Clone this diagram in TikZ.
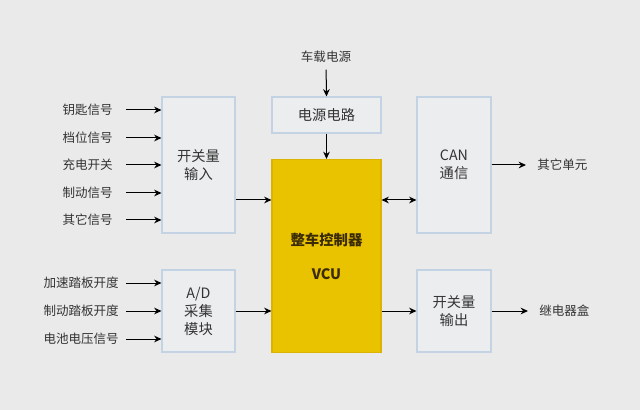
\documentclass[tikz,border=0pt]{standalone}
\usepackage{fontspec}
\setmainfont{Noto Sans CJK SC}
\usetikzlibrary{arrows.meta}
\definecolor{bggray}{HTML}{EAEAEA}
\definecolor{boxfill}{HTML}{ECEDEF}
\definecolor{boxline}{HTML}{C3D3E3}
\definecolor{vcuyellow}{HTML}{E9C200}
\definecolor{vculine}{HTML}{DCB400}
\definecolor{vcutext}{HTML}{3B2C05}
\definecolor{txtgray}{HTML}{333333}

\begin{document}
\begin{tikzpicture}[x=0.75pt,y=-0.75pt,
    block/.style={draw=boxline, fill=boxfill, line width=0.8pt, inner sep=0pt,
        align=center, text=txtgray, font=\fontsize{10.7}{13.5}\selectfont},
    sig/.style={inner sep=0pt, text=txtgray, font=\fontsize{9.4}{11}\selectfont},
    arr/.style={->, >={Stealth[length=5.5pt, width=5pt]}, line width=0.75pt, black}]

        % Background
        \useasboundingbox (0,0) rectangle (640,410);
        \fill[bggray] (0,0) rectangle (640,410);

        % Blocks
        \node[block, minimum width=54.75pt, minimum height=102pt] (swin) at (198.5,165) {开关量\\输入};
        \node[block, minimum width=81.75pt, minimum height=27pt] (psu) at (326.5,115) {电源电路};
        \node[block, minimum width=55.5pt, minimum height=102pt] (can) at (454,165) {CAN\\通信};
        \node[block, minimum width=54.75pt, minimum height=61.5pt] (adc) at (198.5,311) {A/D\\采集\\模块};
        \node[block, minimum width=55.5pt, minimum height=61.5pt] (swout) at (454,311) {开关量\\输出};

        % Vehicle control unit
        \node[draw=vculine, fill=vcuyellow, line width=0.8pt, inner sep=0pt, align=center,
            text=vcutext, font=\fontsize{10.8}{25.5}\selectfont\bfseries,
            minimum width=81.75pt, minimum height=144.75pt] (vcu) at (326.5,256) {整车控制器\\VCU};

        % Power supply
        \node[sig] (vbat) at (326,57) {车载电源};
        \draw[arr, shorten <=5pt] (vbat.south) -- (psu.north);
        \draw[arr] (psu.south) -- (vcu.north);

        % Switch inputs
        \node[sig, anchor=east] (key) at (113,110) {钥匙信号};
        \node[sig, anchor=east] (gear) at (113,138) {档位信号};
        \node[sig, anchor=east] (chg) at (113,165) {充电开关};
        \node[sig, anchor=east] (brk) at (113,193) {制动信号};
        \node[sig, anchor=east] (oth) at (113,220) {其它信号};
        \draw[arr, shorten <=9.75pt] (key.east) -- (key.east -| swin.west);
        \draw[arr, shorten <=9.75pt] (gear.east) -- (gear.east -| swin.west);
        \draw[arr, shorten <=9.75pt] (chg.east) -- (chg.east -| swin.west);
        \draw[arr, shorten <=9.75pt] (brk.east) -- (brk.east -| swin.west);
        \draw[arr, shorten <=9.75pt] (oth.east) -- (oth.east -| swin.west);

        % Analog inputs
        \node[sig, anchor=east] (acc) at (119,283) {加速踏板开度};
        \node[sig, anchor=east] (brkp) at (119,311) {制动踏板开度};
        \node[sig, anchor=east] (batv) at (119,339) {电池电压信号};
        \draw[arr, shorten <=5.25pt] (acc.east) -- (acc.east -| adc.west);
        \draw[arr, shorten <=5.25pt] (brkp.east) -- (brkp.east -| adc.west);
        \draw[arr, shorten <=5.25pt] (batv.east) -- (batv.east -| adc.west);

        % Links to the VCU
        \coordinate (mid) at (0,200);
        \draw[arr] (swin.east |- mid) -- (vcu.west |- mid);
        \draw[arr, <->] (vcu.east |- mid) -- (can.west |- mid);
        \draw[arr] (adc.east) -- (vcu.west |- adc.east);
        \draw[arr] (vcu.east |- swout.west) -- (swout.west);

        % Outputs
        \node[sig, anchor=west] (other) at (537,165) {其它单元};
        \node[sig, anchor=west] (relay) at (539,311) {继电器盒};
        \draw[arr, shorten >=8.25pt] (can.east) -- (other.west);
        \draw[arr, shorten >=8.25pt] (swout.east) -- (relay.west);

\end{tikzpicture}
\end{document}
